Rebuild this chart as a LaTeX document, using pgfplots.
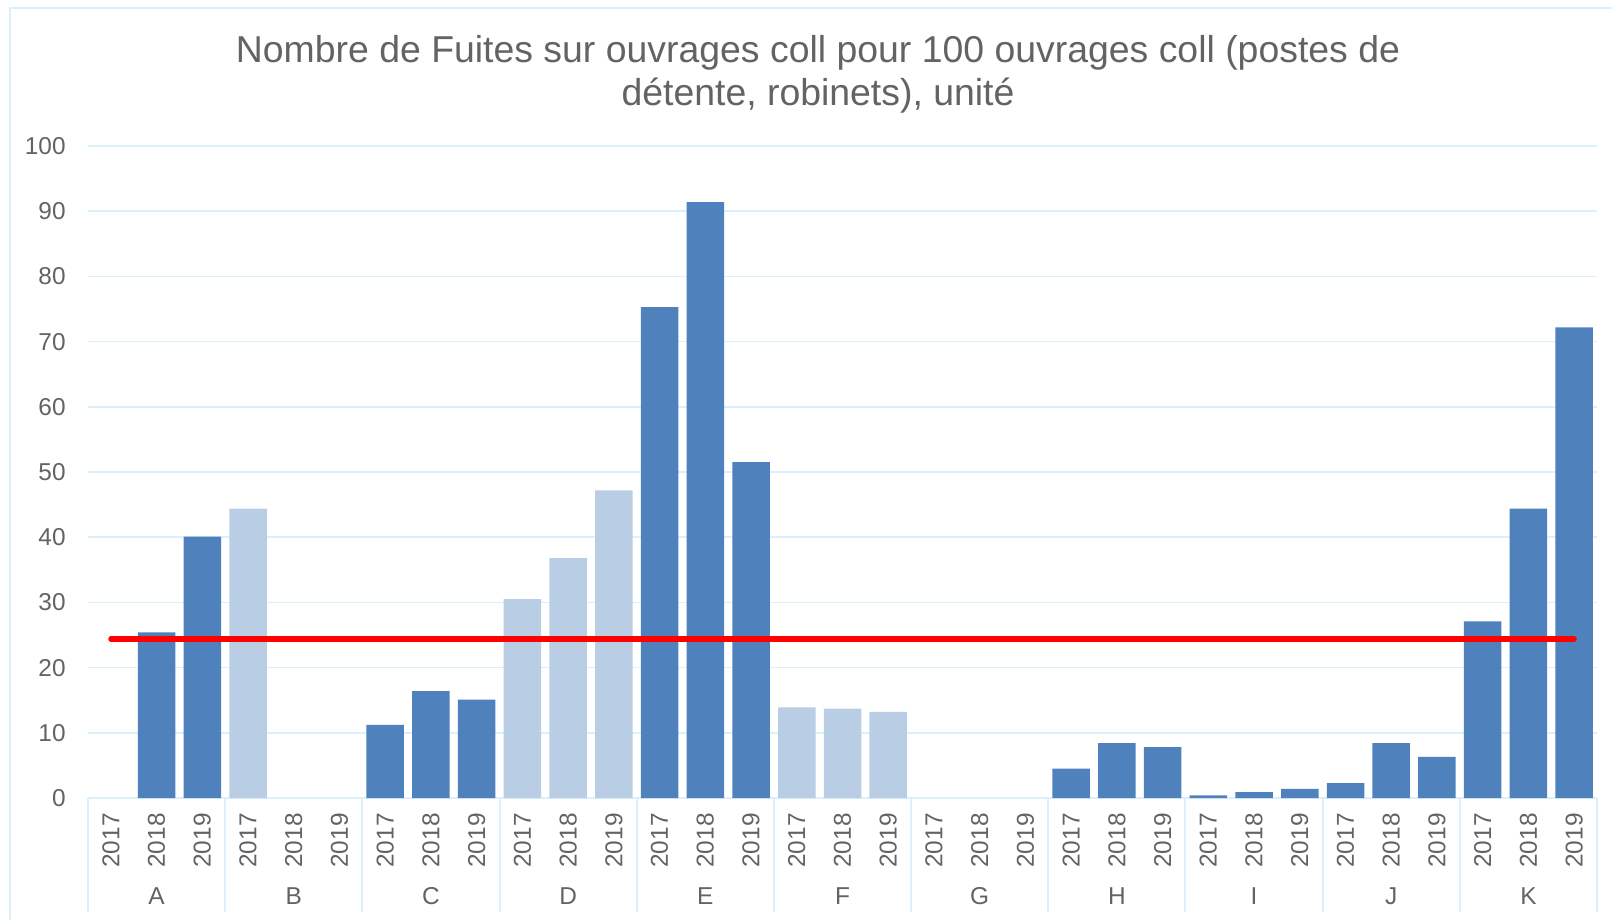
\documentclass[border=0pt]{standalone}
\usepackage{pgfplots}
\pgfplotsset{compat=1.18}
\usepackage{fontspec}
\setmainfont{Liberation Sans}
\definecolor{darkbar}{HTML}{4F81BD}
\definecolor{lightbar}{HTML}{B9CDE5}
\definecolor{gridcol}{HTML}{DAF0FA}
\definecolor{txtcol}{HTML}{636363}
\begin{document}
\begin{tikzpicture}
\useasboundingbox (0,0) rectangle (806pt,-460pt);
\draw[gridcol, line width=1pt] (5pt,-470pt) -- (5pt,-4pt) -- (820pt,-4pt);
\node[anchor=base, text=txtcol, font=\fontsize{18.7}{22}\selectfont] at (409pt,-31.2pt) {Nombre de Fuites sur ouvrages coll pour 100 ouvrages coll (postes de};
\node[anchor=base, text=txtcol, font=\fontsize{18.7}{22}\selectfont] at (409pt,-52.9pt) {détente, robinets), unité};
\begin{axis}[
  at={(44pt,-399pt)}, anchor=south west,
  scale only axis, width=754.5pt, height=326pt,
  xmin=-0.5, xmax=32.5, ymin=0, ymax=100,
  ytick={0,10,...,100},
  xtick={0,1,...,32},
  xticklabels={2017,2018,2019,2017,2018,2019,2017,2018,2019,2017,2018,2019,2017,2018,2019,2017,2018,2019,2017,2018,2019,2017,2018,2019,2017,2018,2019,2017,2018,2019,2017,2018,2019},
  axis x line*=bottom, axis y line*=left,
  x axis line style={gridcol, line width=1pt, -},
  y axis line style={draw=none},
  major tick length=0pt,
  ymajorgrids, grid style={gridcol, line width=0.8pt},
  /pgf/number format/assume math mode=true,
  ticklabel style={text=txtcol, font=\fontsize{12.2}{14}\selectfont},
  yticklabel style={anchor=east, inner sep=0pt, xshift=-11pt},
  xticklabel style={rotate=90, anchor=east, inner sep=0pt},
  xticklabel shift=7.5pt,
  bar width=0.82,
  clip=false,
]
\addplot[ybar, bar shift=0pt, fill=darkbar, draw=none] coordinates {
(1,25.4) (2,40.1) (6,11.2) (7,16.4) (8,15.1) (12,75.3) (13,91.4) (14,51.5)
(21,4.5) (22,8.4) (23,7.8) (24,0.4) (25,0.9) (26,1.4) (27,2.3) (28,8.4) (29,6.3)
(30,27.1) (31,44.4) (32,72.2)};
\addplot[ybar, bar shift=0pt, fill=lightbar, draw=none] coordinates {
(3,44.4) (9,30.5) (10,36.8) (11,47.2) (15,13.9) (16,13.7) (17,13.2)};
\addplot[red, line width=2.6pt, line cap=round, mark=none] coordinates {(0,24.4) (32,24.4)};
\pgfplotsinvokeforeach{-0.5,2.5,5.5,8.5,11.5,14.5,17.5,20.5,23.5,26.5,29.5,32.5}{
  \draw[gridcol, line width=1pt] (axis cs:#1,0) -- ++(0pt,-57pt);
}
\foreach \p/\l in {1/A,4/B,7/C,10/D,13/E,16/F,19/G,22/H,25/I,28/J,31/K}{
  \edef\tmp{\noexpand\node[text=txtcol, font=\noexpand\fontsize{12.2}{14}\noexpand\selectfont, yshift=-49pt] at (axis cs:\p,0) {\l};}
  \tmp
}
\end{axis}
\end{tikzpicture}
\end{document}
